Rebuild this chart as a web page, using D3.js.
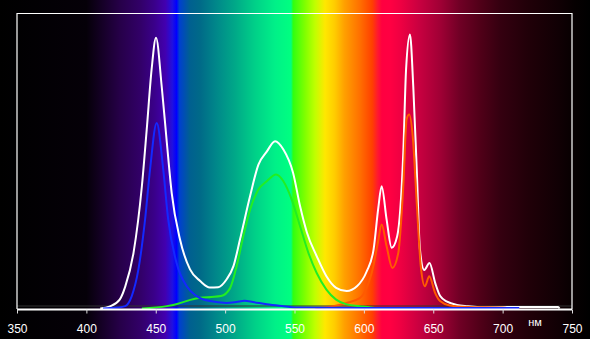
<!DOCTYPE html>
<html>
<head>
<meta charset="utf-8">
<script src="https://cdn.jsdelivr.net/npm/d3@7"></script>
<style>
  html, body { margin: 0; padding: 0; background: #000; }
  #chart text { font-family: "Liberation Sans", Arial, sans-serif; fill: #fff; }
</style>
</head>
<body>
<div id="chart"></div>
<script>
// x tick labels (nm)
const xTicks = [350, 400, 450, 500, 550, 600, 650, 700, 750];
const unitLabel = 'нм';

// [wavelength nm, relative intensity %]
const totalCurve = [
    [410, 0], [417, 0.7], [424, 3], [428, 7.4], [434, 18.9], [440, 41.3], [443.5, 60.5],
    [447, 80.7], [450.2, 91.5], [454.3, 75], [458, 56], [461.5, 39], [467.5, 23.3],
    [474.7, 13.2], [482, 9.3], [489, 7.1], [495, 7.2], [501, 9.8], [506, 14.3],
    [510.7, 23.3], [518, 38], [524, 48.6], [530, 53], [536, 56.5], [542, 53.7],
    [549, 45.8], [554, 34.6], [559, 25.6], [566, 17.7], [573, 10.9], [580, 7],
    [587.6, 5.9], [595, 7.5], [602, 12.5], [607, 20], [610.4, 34], [612.8, 41.3],
    [616.4, 30], [620, 20.5], [624, 24.4], [628.4, 52.6], [630.4, 80.7], [633.2, 92.6],
    [635.6, 75], [638.1, 47], [640.4, 20], [643.5, 13], [647.3, 15.4], [651.5, 8.5],
    [655, 4.2], [660, 2.3], [667, 1.2], [675, 0.8], [690, 0.4], [700, 0.5], [740, 0.5], [741, 0]
];
const blueCurve = [
    [412, 0], [422, 0.3], [428, 0.8], [432.7, 4.2], [437.5, 13.2], [442.3, 30], [445.9, 47],
    [450.7, 62.7], [455.4, 47], [459, 30], [465, 15.4], [472.3, 7.5], [479.5, 4.2],
    [489, 2.5], [501, 1.9], [508, 2.2], [514, 2.6], [520, 2.2], [530, 1.4], [542, 0.8],
    [554, 0.3], [600, 0.2], [712, 0.2]
];
const greenCurve = [
    [440, 0], [458, 0.8], [466, 1.6], [472, 2.5], [482, 3.6], [490, 3.9], [497, 4.2],
    [503.5, 6.8], [508.3, 14.3], [513.1, 24.4], [518, 33.4], [524, 40.2], [530, 43],
    [536.7, 45.3], [542, 43], [548, 36.8], [554, 27.8], [560, 18.8], [566, 12],
    [573, 6.4], [580, 3], [587.6, 1.4], [597, 0.8], [605, 0.3], [612, 0]
];
const redCurve = [
    [565, 0], [578, 0.8], [587.6, 1.9], [597, 3.5], [602, 7], [606.8, 14.3], [610, 22],
    [612.8, 28.4], [616.4, 21], [620.5, 13.7], [624.8, 18.8], [628.4, 41.3], [630.8, 63.9],
    [632.7, 65.5], [635.2, 58.2], [638.1, 35.7], [641, 14.3], [644, 7.5], [647.1, 10.9],
    [651.3, 5.3], [654.9, 2.5], [662, 1], [675, 0.5], [700, 0.3], [705, 0]
];

// background spectrum colours by wavelength
const spectrumStops = [
    [337, '#000000'], [400, '#050008'], [412, '#160028'], [424, '#260048'], [439, '#320068'],
    [449, '#3a008a'], [457, '#4200b0'], [462, '#2010e0'], [465, '#0000ff'], [467, '#0040d0'],
    [474.7, '#006090'], [482, '#006a88'], [493, '#00868a'], [507, '#00a888'], [521.5, '#00d088'],
    [536, '#00f088'], [547.5, '#00ff80'], [549, '#30ff10'], [557.6, '#80ff00'], [564.8, '#c0ff00'],
    [572, '#ffe800'], [579, '#ffcc00'], [586, '#ffa000'], [597, '#ff7000'], [606, '#ff4000'],
    [610, '#ff1830'], [613, '#ff0040'], [619, '#ff0042'], [626, '#f00042'], [640, '#c80040'],
    [655, '#a00035'], [669, '#700025'], [684, '#500018'], [698, '#350010'], [719, '#200008'],
    [741, '#100004'], [752, '#060001'], [763, '#000000']
];

const width = 590;
const height = 339;

const svg = d3.select('#chart')
    .append('svg')
    .attr('width', width)
    .attr('height', height);

const x = d3.scaleLinear()
    .domain([350, 750])
    .range([17, 572]);

const y = d3.scaleLinear()
    .domain([0, 100])
    .range([308.5, 12.5]);

// spectrum gradient over the whole picture
const grad = svg.append('defs')
    .append('linearGradient')
    .attr('id', 'spectrum')
    .attr('gradientUnits', 'userSpaceOnUse')
    .attr('x1', 0).attr('x2', width)
    .attr('y1', 0).attr('y2', 0);

grad.selectAll('stop')
    .data(spectrumStops)
    .join('stop')
    .attr('offset', d => Math.max(0, Math.min(1, x(d[0]) / width)))
    .attr('stop-color', d => d[1]);

svg.append('rect')
    .attr('width', width)
    .attr('height', height)
    .attr('fill', 'url(#spectrum)');

// faint baseline
svg.append('line')
    .attr('x1', x(350)).attr('x2', x(750))
    .attr('y1', 306).attr('y2', 306)
    .attr('stroke', '#333')
    .attr('stroke-width', 1);

// frame
svg.append('path')
    .attr('d', `M${x(350)},309 V13.5 H${x(750)} V309`)
    .attr('fill', 'none')
    .attr('stroke', '#fff')
    .attr('stroke-width', 1.2);

// curves
const line = d3.line()
    .x(d => x(d[0]))
    .y(d => y(d[1]))
    .curve(d3.curveMonotoneX);

const series = [
    { data: totalCurve, color: '#ffffff' },
    { data: redCurve, color: '#ff5a00' },
    { data: greenCurve, color: '#22ee22' },
    { data: blueCurve, color: '#1428ff' }
];

svg.selectAll('path.curve')
    .data(series)
    .join('path')
    .attr('class', 'curve')
    .attr('d', d => line(d.data))
    .attr('fill', 'none')
    .attr('stroke', d => d.color)
    .attr('stroke-width', 2)
    .attr('stroke-linejoin', 'round');

// x axis
const axis = svg.append('g')
    .attr('transform', 'translate(0,309.5)')
    .call(d3.axisBottom(x)
        .tickValues(xTicks)
        .tickSize(4)
        .tickPadding(11)
        .tickFormat(d3.format('d')));

axis.select('.domain')
    .attr('stroke', '#fff')
    .attr('stroke-width', 2)
    .attr('d', `M${x(350)},0H${x(750)}`);
axis.selectAll('.tick line').attr('stroke', '#ddd');
axis.selectAll('.tick text')
    .attr('fill', '#fff')
    .style('font-size', '12px');

// unit label
svg.append('text')
    .attr('x', 535)
    .attr('y', 326)
    .attr('text-anchor', 'middle')
    .style('font-size', '11px')
    .text(unitLabel);
</script>
</body>
</html>
